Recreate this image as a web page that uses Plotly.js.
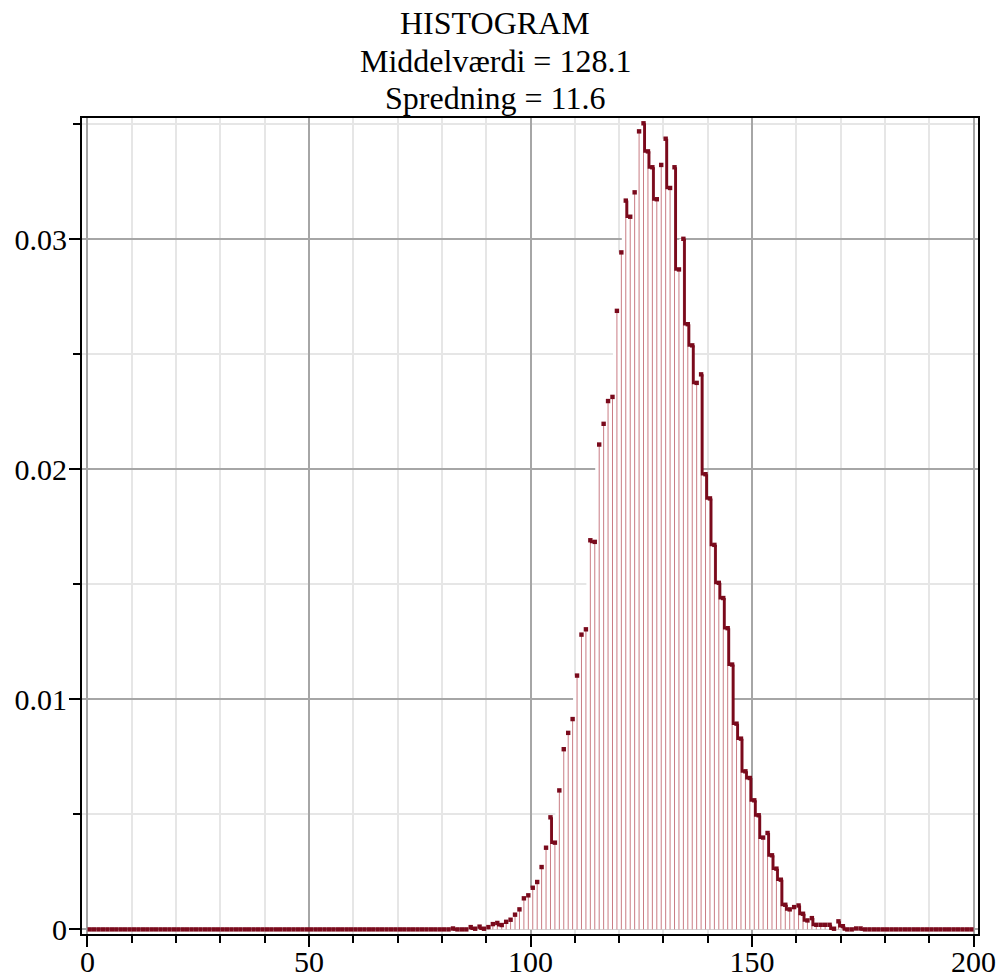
<!DOCTYPE html>
<html>
<head>
<meta charset="utf-8">
<script src="https://cdn.plot.ly/plotly-3.0.1.min.js"></script>
<style>html,body{margin:0;padding:0;background:#fff;}#chart{width:1000px;height:978px;}</style>
</head>
<body>
<div id="chart"></div>
<script>
// Histogram bins: bin k covers [k, k+1), k = 0..199
const binStart = 0;
const binCount = 200;
const titleLines = ["HISTOGRAM", "Middelværdi = 128.1", "Spredning = 11.6"];
const xTickStep = 50;
const yTickStep = 0.01;

// relative frequency of each bin
const freq0to79 = [
  0,0,0,0,0,0,0,0,0,0, 0,0,0,0,0,0,0,0,0,0,
  0,0,0,0,0,0,0,0,0,0, 0,0,0,0,0,0,0,0,0,0,
  0,0,0,0,0,0,0,0,0,0, 0,0,0,0,0,0,0,0,0,0,
  0,0,0,0,0,0,0,0,0,0, 0,0,0,0,0,0,0,0,0,0
];
const freq80to99 = [
  0, 0, 0.00004, 0, 0, 0, 0.0001, 0.00003, 0.00012, 0.00003,
  0.0001, 0.00023, 0.00028, 0.00019, 0.00033, 0.00042, 0.00064, 0.00087, 0.00135, 0.00148
];
const freq100to119 = [
  0.00181, 0.00206, 0.00271, 0.00355, 0.00487, 0.00377, 0.00604, 0.00783, 0.00854, 0.00914,
  0.01103, 0.01281, 0.01304, 0.01691, 0.01684, 0.02107, 0.02197, 0.02296, 0.02314, 0.02688
];
const freq120to139 = [
  0.02942, 0.03167, 0.03097, 0.03203, 0.03468, 0.03503, 0.03381, 0.03312, 0.03173, 0.03322,
  0.03436, 0.03222, 0.03312, 0.02868, 0.03001, 0.02630, 0.02538, 0.02375, 0.02412, 0.01978
];
const freq140to159 = [
  0.01873, 0.01671, 0.01506, 0.01440, 0.01309, 0.01151, 0.00894, 0.00829, 0.00687, 0.00658,
  0.00561, 0.00496, 0.00399, 0.00419, 0.00322, 0.00264, 0.00216, 0.00107, 0.00087, 0.00097
];
const freq160to179 = [
  0.00104, 0.00068, 0.00039, 0.00049, 0.0002, 0.0002, 0.0002, 0.0002, 0.00003, 0.00035,
  0.00014, 0, 0, 0.00004, 0.00004, 0, 0, 0, 0, 0
];
const freq180to199 = [
  0,0,0,0,0,0,0,0,0,0, 0,0,0,0,0,0,0,0,0,0
];

const freq = [].concat(freq0to79, freq80to99, freq100to119, freq120to139, freq140to159, freq160to179, freq180to199);
const centers = [];
for (let k = 0; k < binCount; k++) centers.push(binStart + k + 0.5);

const serif = "'Liberation Serif','Times New Roman',serif";
const darkRed = "#7a0a1c";
const stemColor = "rgb(201,124,132)";

// white area under the histogram (hides the grid)
const fx = [], fy = [];
for (let k = 0; k < binCount; k++) { fx.push(centers[k] - 0.9); fy.push(freq[k]); }
fx.push(centers[binCount - 1] + 0.1); fy.push(freq[binCount - 1]);

// thin stems
const sx = [], sy = [];
for (let k = 0; k < binCount; k++) {
  if (freq[k] > 0) { sx.push(centers[k], centers[k], null); sy.push(0, freq[k], null); }
}

// thick outline on the falling steps
const tx = [], ty = [];
for (let k = 0; k < binCount - 1; k++) {
  if (freq[k + 1] < freq[k]) {
    tx.push(centers[k] + 0.25, centers[k] + 0.25, centers[k + 1], null);
    ty.push(freq[k], freq[k + 1], freq[k + 1], null);
  }
}

const traces = [
  {x: fx, y: fy, type: 'scatter', mode: 'lines', line: {shape: 'hv', width: 0, color: 'white'},
   fill: 'tozeroy', fillcolor: 'white', hoverinfo: 'skip', showlegend: false},
  {x: sx, y: sy, type: 'scatter', mode: 'lines', line: {color: stemColor, width: 1},
   hoverinfo: 'skip', showlegend: false},
  {x: tx, y: ty, type: 'scatter', mode: 'lines', line: {color: darkRed, width: 2.8},
   hoverinfo: 'skip', showlegend: false},
  {x: centers, y: freq, type: 'scatter', mode: 'markers',
   marker: {symbol: 'square', size: 4.4, color: darkRed, line: {width: 0}}, showlegend: false}
];

const axisCommon = {
  ticks: 'outside', ticklen: 11, tickwidth: 2, tickcolor: 'black',
  showline: true, linecolor: 'black', linewidth: 2, mirror: true,
  showgrid: true, gridcolor: '#a6a6a6', gridwidth: 2, zeroline: false,
  tickfont: {family: serif, size: 30, color: 'black'}
};

// title lines placed individually (px from top of the page)
const titleCentersPx = [23, 61, 98];
const plotTop = 118, plotH = 816;
const annotations = titleLines.map((t, k) => ({
  text: t, showarrow: false, xref: 'paper', yref: 'paper',
  x: (495 - 82) / 896, xanchor: 'center',
  y: 1 + (plotTop - titleCentersPx[k]) / plotH, yanchor: 'middle',
  font: {family: serif, size: 32, color: 'black'}
}));

const layout = {
  width: 1000, height: 978,
  margin: {l: 82, r: 22, t: 118, b: 44, pad: 0},
  paper_bgcolor: 'white', plot_bgcolor: 'white',
  showlegend: false,
  annotations: annotations,
  xaxis: Object.assign({}, axisCommon, {
    range: [-1.24, 201], tick0: 0, dtick: xTickStep, ticklabelstandoff: -11,
    minor: {tick0: 0, dtick: 10, ticks: 'outside', ticklen: 7, tickwidth: 2, tickcolor: 'black',
            showgrid: true, gridcolor: '#e6e6e6', gridwidth: 2}
  }),
  yaxis: Object.assign({}, axisCommon, {
    range: [-0.0002, 0.03526], tick0: 0, dtick: yTickStep, ticklabelstandoff: -4,
    minor: {tick0: 0, dtick: 0.005, ticks: 'outside', ticklen: 7, tickwidth: 2, tickcolor: 'black',
            showgrid: true, gridcolor: '#e6e6e6', gridwidth: 2}
  })
};

Plotly.newPlot('chart', traces, layout, {displayModeBar: false, staticPlot: true});
</script>
</body>
</html>
